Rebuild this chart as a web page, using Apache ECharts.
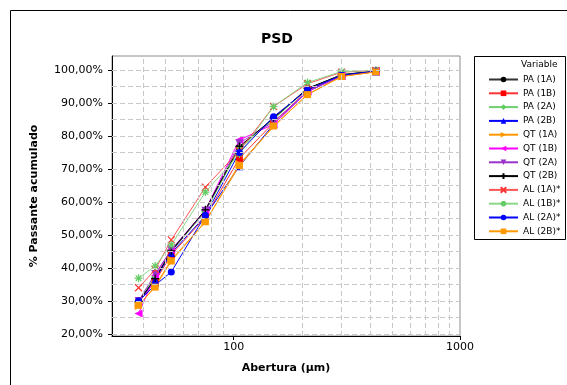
<!DOCTYPE html>
<html>
<head>
<meta charset="utf-8">
<script src="https://cdn.jsdelivr.net/npm/echarts@6/dist/echarts.min.js"></script>
<style>
html,body{margin:0;padding:0;background:#fff;}
#c{width:567px;height:385px;}
</style>
</head>
<body>
<div id="c"></div>
<script>
// Sieve apertures (µm)
const apertures = [38, 45, 53, 75, 106, 150, 212, 300, 425];
// Cumulative passing (%) per sample
const pa1A = [29.8, 36.8, 45.0, 57.2, 76.5, 85.2, 94.3, 98.5, 99.6];
const pa1B = [29.5, 36.0, 44.0, 55.5, 73.2, 84.0, 93.8, 98.3, 99.5];
const pa2A = [30.0, 37.5, 45.5, 57.0, 76.3, 85.0, 94.2, 98.6, 99.6];
const pa2B = [29.6, 36.5, 44.5, 55.8, 70.8, 83.5, 93.5, 98.2, 99.5];
const qt1A = [28.5, 34.5, 42.5, 54.0, 71.5, 82.8, 92.6, 98.0, 99.4];
const qt1B = [26.2, 37.8, 45.5, 57.5, 78.8, 83.5, 93.5, 98.2, 99.5];
const qt2A = [30.0, 38.2, 45.5, 57.3, 77.8, 84.3, 93.4, 98.2, 99.5];
const qt2B = [29.8, 36.8, 45.2, 57.6, 76.8, 85.4, 94.4, 98.5, 99.7];
const al1A = [34.0, 39.5, 48.5, 64.5, 75.5, 88.9, 95.8, 99.3, 99.8];
const al1B = [36.9, 40.6, 47.0, 63.0, 74.5, 88.9, 96.2, 99.5, 99.8];
const al2A = [30.0, 34.8, 38.8, 56.0, 75.0, 85.8, 94.0, 98.4, 99.6];
const al2B = [28.7, 34.2, 42.1, 54.0, 71.0, 83.0, 92.5, 98.0, 99.4];
// Axis ticks and grid positions
const xGrid = [40, 50, 60, 70, 80, 90, 200, 300, 400, 500, 600, 700, 800, 900];
const xLabels = [100, 1000];
const yLabels = [20, 30, 40, 50, 60, 70, 80, 90, 100];
const yGrid = [20, 25, 30, 35, 40, 45, 50, 55, 60, 65, 70, 75, 80, 85, 90, 95, 100];

const plusPath = 'path://M5,0L5,10M0,5L10,5';
const crossPath = 'path://M0,0L10,10M10,0L0,10';
const starPath = 'path://M5,0L5,10M0,5L10,5M1.5,1.5L8.5,8.5M8.5,1.5L1.5,8.5';

const defs = [
  {name:'PA (1A)', data:pa1A, color:'#000000', line:'#333333', symbol:'circle', size:7},
  {name:'PA (1B)', data:pa1B, color:'#ff0000', line:'#ff3333', symbol:'rect', size:7},
  {name:'PA (2A)', data:pa2A, color:'#5fcc5f', line:'#6fd06f', symbol:'diamond', size:8},
  {name:'PA (2B)', data:pa2B, color:'#0000ff', line:'#0000ff', symbol:'triangle', size:8},
  {name:'QT (1A)', data:qt1A, color:'#ff9900', line:'#ff9900', symbol:'triangle', rot:-90, size:8},
  {name:'QT (1B)', data:qt1B, color:'#ff00ff', line:'#ff00ff', symbol:'triangle', rot:90, size:8},
  {name:'QT (2A)', data:qt2A, color:'#9933cc', line:'#9933cc', symbol:'triangle', rot:180, size:8},
  {name:'QT (2B)', data:qt2B, color:'#000000', line:'#000000', symbol:plusPath, size:8, stroke:true},
  {name:'AL (1A)*', data:al1A, color:'#ff3333', line:'#ff5555', symbol:crossPath, size:7, stroke:true},
  {name:'AL (1B)*', data:al1B, color:'#66cc66', line:'#88d888', symbol:starPath, size:8, stroke:true},
  {name:'AL (2A)*', data:al2A, color:'#0000ff', line:'#0000ff', symbol:'circle', size:7},
  {name:'AL (2B)*', data:al2B, color:'#ff9900', line:'#ff9900', symbol:'rect', size:7}
];

const FONT = 'DejaVu Sans';

const series = defs.map(d => ({
  name: d.name,
  type: 'line',
  data: apertures.map((x, i) => [x, d.data[i]]),
  symbol: d.symbol,
  symbolSize: d.size,
  symbolRotate: d.rot || 0,
  showAllSymbol: true,
  lineStyle: {color: d.line, width: 1},
  itemStyle: d.stroke ? {color: d.color, borderColor: d.color, borderWidth: 1.2} : {color: d.color, borderWidth: 0},
  emphasis: {disabled: true},
  animation: false,
  z: 3
}));

series.push({
  name: '_grid',
  type: 'line',
  data: [],
  silent: true,
  animation: false,
  markLine: {
    silent: true,
    symbol: 'none',
    label: {show: false},
    animation: false,
    lineStyle: {color: '#c8c8c8', type: [5, 3], width: 1},
    data: xGrid.map(v => ({xAxis: v})).concat(yGrid.map(v => ({yAxis: v})))
  },
  z: 1
});

const chart = echarts.init(document.getElementById('c'), null, {renderer: 'canvas'});
chart.setOption({
  backgroundColor: '#fff',
  animation: false,
  title: {
    text: 'PSD', left: 272, top: 27, textAlign: 'center',
    textStyle: {fontFamily: FONT, fontSize: 14, fontWeight: 'bold', color: '#000'}
  },
  grid: {left: 112, top: 56, width: 348, height: 280, show: true, borderColor: '#8c8c8c', borderWidth: 1, backgroundColor: '#fff'},
  xAxis: {
    type: 'log', logBase: 10, min: 29, max: 1000,
    name: 'Abertura (µm)', nameLocation: 'middle', nameGap: 27, nameMoveOverlap: false,
    nameTextStyle: {fontFamily: FONT, fontSize: 11, fontWeight: 'bold', color: '#000'},
    axisLine: {lineStyle: {color: '#000', width: 1}},
    axisTick: {show: true, length: 4, lineStyle: {color: '#000'}, customValues: xLabels},
    axisLabel: {fontFamily: FONT, fontSize: 11, color: '#000', margin: 6, customValues: xLabels,
      formatter: v => String(Math.round(v))},
    splitLine: {show: false}
  },
  yAxis: {
    type: 'value', min: 19.4, max: 104.2,
    name: '% Passante acumulado', nameLocation: 'middle', nameGap: 72, nameMoveOverlap: false,
    nameTextStyle: {fontFamily: FONT, fontSize: 11, fontWeight: 'bold', color: '#000'},
    axisLine: {show: true, lineStyle: {color: '#000', width: 1}},
    axisTick: {show: true, length: 4, lineStyle: {color: '#000'}, customValues: yLabels},
    axisLabel: {fontFamily: FONT, fontSize: 11, color: '#000', margin: 9, customValues: yLabels,
      formatter: v => Math.round(v).toFixed(2).replace('.', ',') + '%'},
    splitLine: {show: false}
  },
  legend: {
    data: defs.map(d => d.name),
    orient: 'vertical', left: 483, top: 69,
    itemWidth: 29, itemHeight: 7, itemGap: 2.8,
    textStyle: {fontFamily: FONT, fontSize: 9, color: '#000', lineHeight: 11},
    selectedMode: false
  },
  graphic: [
    {type: 'rect', shape: {x: 10.5, y: 10.5, width: 600, height: 400}, style: {fill: 'none', stroke: '#000', lineWidth: 1}, silent: true},
    {type: 'rect', shape: {x: 474.5, y: 56.5, width: 91, height: 183}, style: {fill: 'none', stroke: '#000', lineWidth: 1}, silent: true},
    {type: 'text', left: 521, top: 60, style: {text: 'Variable', font: '9px "DejaVu Sans"', fill: '#000'}, silent: true}
  ],
  series: series
});
</script>
</body>
</html>
